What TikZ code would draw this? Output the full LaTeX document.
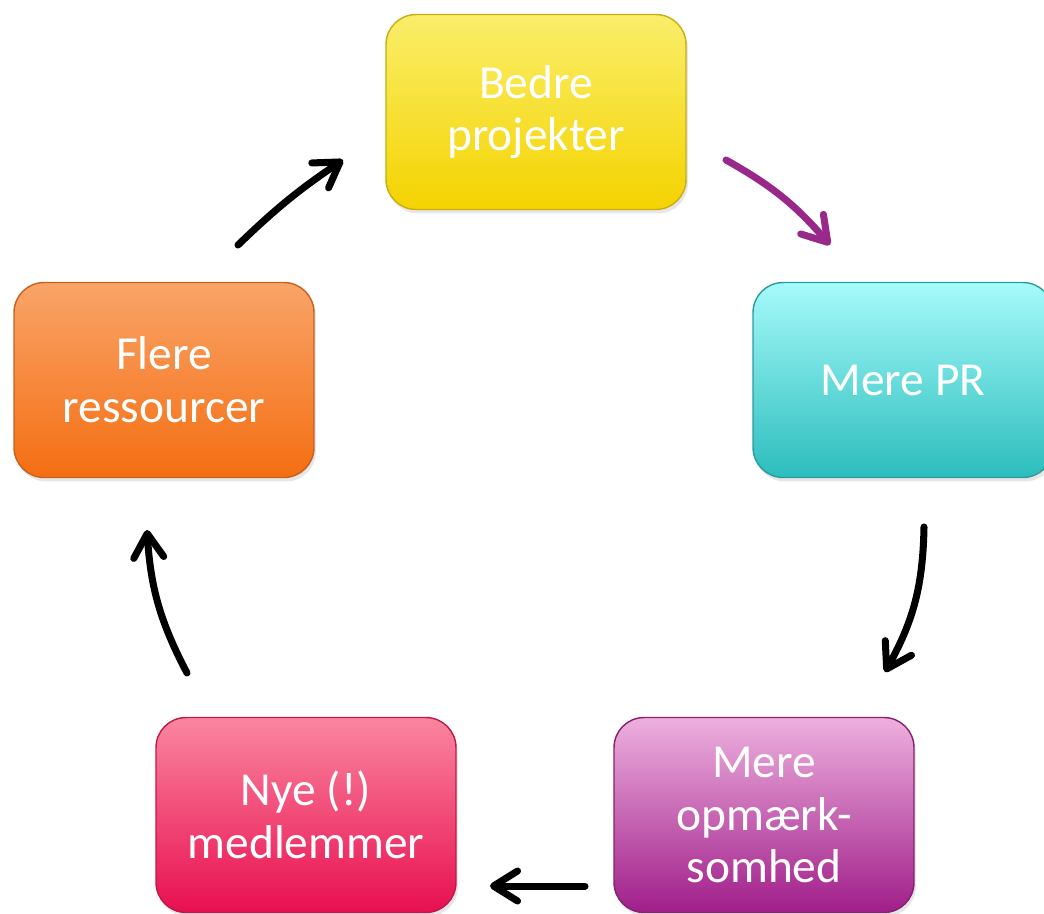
\documentclass[tikz,border=0pt]{standalone}
\usepackage{fontspec}
\setmainfont{Carlito}
\usetikzlibrary{arrows.meta,shadows}
\definecolor{gulT}{HTML}{FAEE6A}
\definecolor{gulB}{HTML}{F4D300}
\definecolor{gulD}{HTML}{C8AE10}
\definecolor{cyanT}{HTML}{A6FAFA}
\definecolor{cyanB}{HTML}{2CBDBD}
\definecolor{cyanD}{HTML}{2A9C9C}
\definecolor{lillaT}{HTML}{EDB0DE}
\definecolor{lillaB}{HTML}{A01E8A}
\definecolor{lillaD}{HTML}{86206F}
\definecolor{rosaT}{HTML}{FA86A0}
\definecolor{rosaB}{HTML}{E80F50}
\definecolor{rosaD}{HTML}{C01848}
\definecolor{orangeT}{HTML}{F9A468}
\definecolor{orangeB}{HTML}{F46E12}
\definecolor{orangeD}{HTML}{C86020}
\definecolor{pilLilla}{HTML}{98288A}
\begin{document}
\begin{tikzpicture}[x=0.02cm, y=-0.02cm,
  box/.style={rounded corners=0.6cm, minimum width=6cm, minimum height=3.9cm, align=center,
    text=white, font=\fontsize{27}{30}\selectfont, line width=0.8pt,
    drop shadow={opacity=0.2, shadow xshift=0.4mm, shadow yshift=-0.8mm}},
  pil/.style={line width=4pt, line cap=round,
    -{Straight Barb[length=4.8mm, width=6mm, line cap=round, line join=round]}}]
  \useasboundingbox (0,0) rectangle (1044,913);
  \node[box, top color=gulT, bottom color=gulB, draw=gulD] (bedre) at (536,112) {Bedre\\projekter};
  \node[box, top color=cyanT, bottom color=cyanB, draw=cyanD] (pr) at (903,380) {Mere PR};
  \node[box, top color=lillaT, bottom color=lillaB, draw=lillaD] (opm) at (764,815) {Mere\\opmærk-\\somhed};
  \node[box, top color=rosaT, bottom color=rosaB, draw=rosaD] (nye) at (306,815) {Nye (!)\\medlemmer};
  \node[box, top color=orangeT, bottom color=orangeB, draw=orangeD] (flere) at (164,380) {Flere\\ressourcer};
  \coordinate (flere-ud) at (238,245);
  \coordinate (bedre-ind) at (343,160);
  \coordinate (bedre-ud) at (726,160);
  \coordinate (pr-ind) at (830,245);
  \coordinate (pr-ud) at (924,527);
  \coordinate (opm-ind) at (885,672);
  \coordinate (opm-ud) at (585,886);
  \coordinate (nye-ind) at (490,886);
  \coordinate (nye-ud) at (187,673);
  \coordinate (flere-ind) at (147,530);
  \draw[pil] (flere-ud) to[bend left=5] (bedre-ind);
  \draw[pil, pilLilla] (bedre-ud) to[bend left=10] (pr-ind);
  \draw[pil] (pr-ud) to[bend left=14] (opm-ind);
  \draw[pil] (opm-ud) -- (nye-ind);
  \draw[pil] (nye-ud) to[bend left=12] (flere-ind);
\end{tikzpicture}
\end{document}
